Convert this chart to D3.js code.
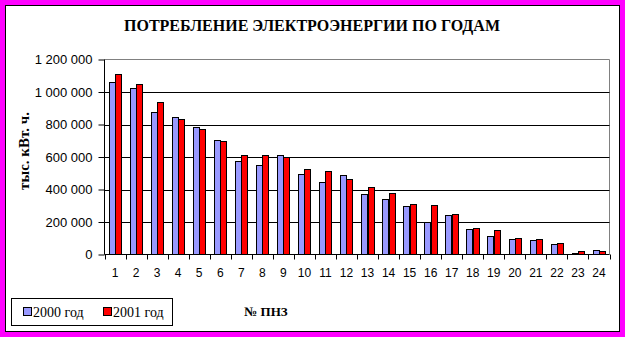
<!DOCTYPE html>
<html><head><meta charset="utf-8">
<script src="https://cdn.jsdelivr.net/npm/d3@7"></script>
<style>body{margin:0;padding:0;background:#ff00ff;overflow:hidden}</style>
</head><body>
<svg id="c" width="625" height="337"></svg>
<script>
const categories = ["1","2","3","4","5","6","7","8","9","10","11","12","13","14","15","16","17","18","19","20","21","22","23","24"];
const series2000 = [1059000,1022000,874000,849000,782000,707000,578000,553000,615000,497000,448000,492000,374000,344000,300000,202000,245000,159000,115000,97000,91000,66000,10000,29000];
const series2001 = [1108000,1047000,936000,831000,775000,701000,615000,615000,597000,529000,516000,467000,418000,381000,313000,307000,251000,165000,152000,103000,97000,72000,23000,23000];
const seriesNames = ["2000 год","2001 год"];
const seriesColors = ["#9999ff","#ff0000"];
const yTicks = [0,200000,400000,600000,800000,1000000,1200000];
const title = "ПОТРЕБЛЕНИЕ ЭЛЕКТРОЭНЕРГИИ ПО ГОДАМ";
const yTitle = "тыс. кВт. ч.";
const xTitle = "№ ПНЗ";

const svg = d3.select("#c");
svg.append("rect").attr("x",0).attr("y",0).attr("width",625).attr("height",337).attr("fill","#ff00ff");
svg.append("rect").attr("x",5.5).attr("y",5.5).attr("width",614).attr("height",326).attr("fill","#fff").attr("stroke","#000");

const L=104.5, R=609.5, T=59.5, B=254.5;
const x = d3.scaleBand().domain(categories).range([L,R]).paddingInner(0.4).paddingOuter(0.2);
const xc = d3.scaleBand().domain(categories).range([L,R]);
const xs = d3.scaleBand().domain([0,1]).range([0,x.bandwidth()]);
const y = d3.scaleLinear().domain([0,1200000]).range([B,T]);

svg.append("path").attr("d",`M${L},${T}H${R}V${B}`).attr("fill","none").attr("stroke","#808080");
svg.append("g").selectAll("line").data(yTicks.filter(d=>d>0&&d<1200000)).join("line")
  .attr("x1",L).attr("x2",R).attr("y1",d=>Math.round(y(d))+0.5).attr("y2",d=>Math.round(y(d))+0.5)
  .attr("stroke","#000");

const data = [series2000, series2001];
data.forEach((vals,si)=>{
  svg.append("g").selectAll("rect").data(vals).join("rect")
    .attr("x",(d,i)=>Math.round(x(categories[i])+xs(si))+0.5)
    .attr("width",Math.round(xs.bandwidth()))
    .attr("y",d=>Math.round(y(d))+0.5)
    .attr("height",d=>B-0.5-Math.round(y(d)))
    .attr("fill",seriesColors[si]).attr("stroke","#000");
});

const ya = svg.append("g").attr("transform",`translate(${L},0)`)
  .call(d3.axisLeft(y).tickValues(yTicks).tickSize(6).tickPadding(6)
    .tickFormat(d=>d3.format(",")(d).replace(/,/g," ")));
ya.select(".domain").attr("d",`M0,${T}V${B}`).attr("stroke","#000");
ya.selectAll("line").attr("stroke","#000").attr("y1",0).attr("y2",0);
ya.selectAll("text").attr("font-family","Liberation Sans, Arial").attr("font-size","13px").attr("fill","#000");

const xa = svg.append("g").attr("transform",`translate(0,${B})`)
  .call(d3.axisBottom(xc).tickSize(0).tickPadding(14));
xa.select(".domain").attr("d",`M${L},0H${R}`).attr("stroke","#000");
xa.selectAll("text").attr("font-family","Liberation Sans, Arial").attr("font-size","12px").attr("fill","#000");
svg.append("g").selectAll("line").data(categories.concat(["end"])).join("line")
  .attr("x1",(d,i)=>Math.round(L+i*xc.bandwidth())+0.5).attr("x2",(d,i)=>Math.round(L+i*xc.bandwidth())+0.5)
  .attr("y1",B).attr("y2",B+5).attr("stroke","#000");

svg.append("text").attr("x",312).attr("y",31).attr("text-anchor","middle")
  .attr("font-family","Liberation Serif, Times New Roman").attr("font-weight","bold").attr("font-size","16px")
  .text(title);
svg.append("text").attr("transform","translate(29,151) rotate(-90)").attr("text-anchor","middle")
  .attr("font-family","Liberation Serif, Times New Roman").attr("font-weight","bold").attr("font-size","15px")
  .text(yTitle);
svg.append("text").attr("x",266).attr("y",316).attr("text-anchor","middle")
  .attr("font-family","Liberation Serif, Times New Roman").attr("font-weight","bold").attr("font-size","13px")
  .text(xTitle);

svg.append("rect").attr("x",11.5).attr("y",298.5).attr("width",161).attr("height",27).attr("fill","#fff").attr("stroke","#000");
const lx=[23,103];
seriesNames.forEach((n,i)=>{
  svg.append("rect").attr("x",lx[i]+0.5).attr("y",307.5).attr("width",8).attr("height",8)
    .attr("fill",seriesColors[i]).attr("stroke","#000");
  svg.append("text").attr("x",lx[i]+10).attr("y",317).attr("font-family","Liberation Serif, Times New Roman")
    .attr("font-size","14px").text(n);
});
</script>
</body></html>
